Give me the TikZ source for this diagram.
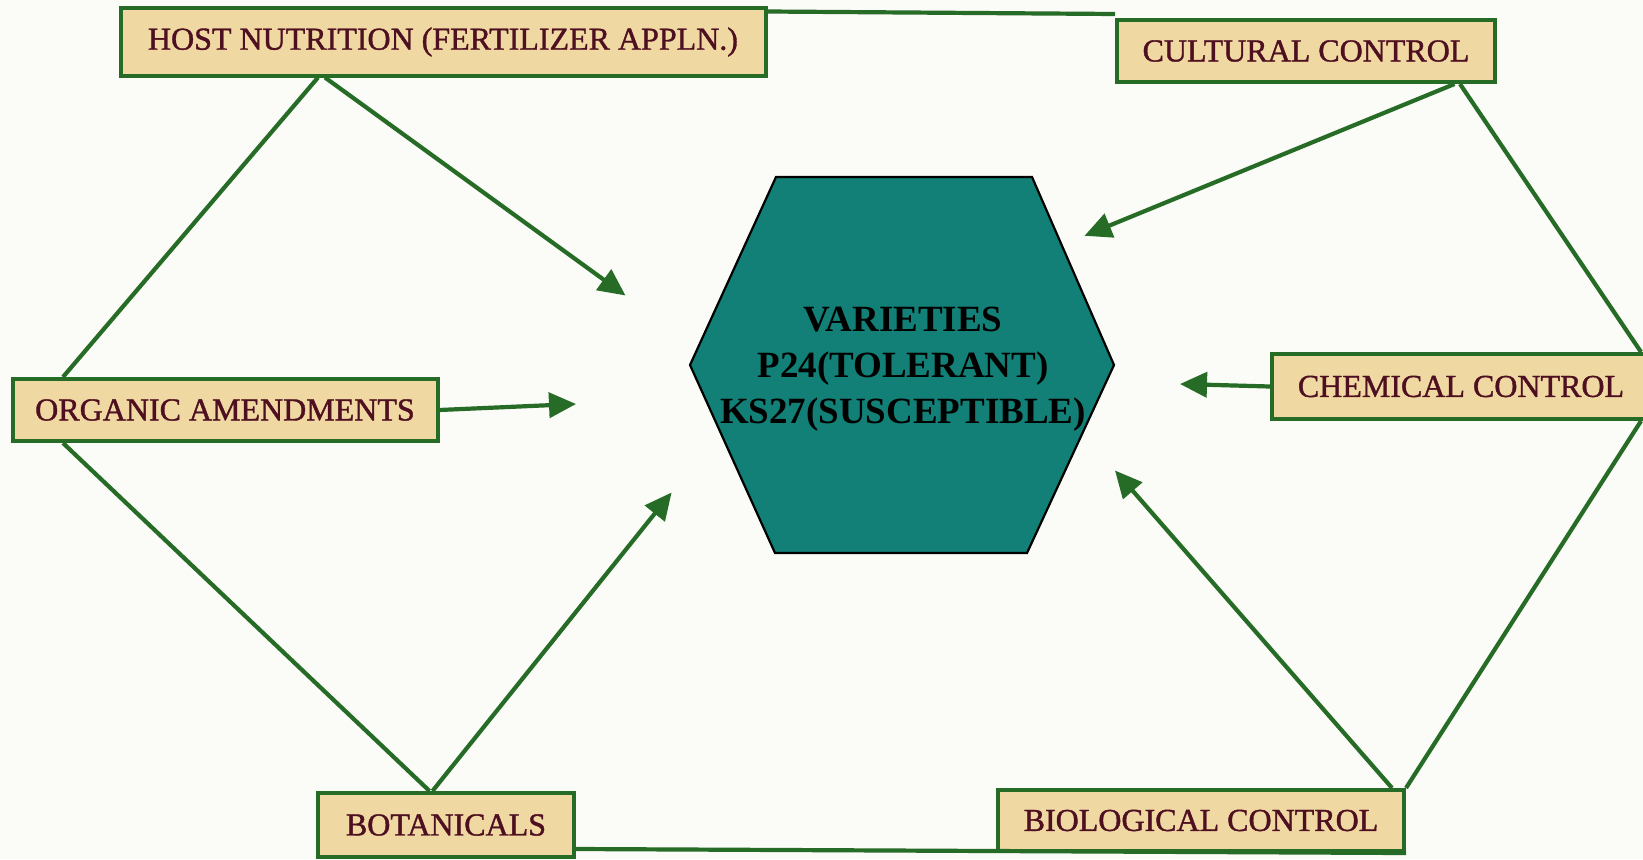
\documentclass[tikz,border=0pt]{standalone}
\usepackage{fontspec}
\setmainfont{Liberation Serif}
\newfontfamily\boxfont{Liberation Serif}[FakeBold=1.2]
\usetikzlibrary{arrows.meta,calc}
\definecolor{bgc}{RGB}{251,251,247}
\definecolor{boxfill}{RGB}{240,216,163}
\definecolor{boxline}{RGB}{38,108,38}
\definecolor{boxtext}{RGB}{78,16,32}
\definecolor{hexfill}{RGB}{18,128,118}
\begin{document}
\begin{tikzpicture}[x=1pt,y=-1pt,
  tbox/.style={draw=boxline, line width=4pt, fill=boxfill, text=boxtext,
    font=\boxfont\fontsize{32}{38}\selectfont, inner sep=0pt, anchor=center},
  link/.style={draw=boxline, line width=4.2pt},
  arr/.style={draw=boxline, line width=4.2pt, -{Triangle[length=27pt,width=25pt]}},
  hexshape/.style={draw=black, line width=2.2pt, fill=hexfill},
  hextext/.style={font=\bfseries\fontsize{37}{46}\selectfont, align=center, text=black, inner sep=0pt}]
\fill[bgc] (0,0) rectangle (1643,859);
\useasboundingbox (0,0) rectangle (1643,859);

% central hexagon
\draw[hexshape] (690,365) -- (776,177) -- (1032,177) -- (1114,365) -- (1027,553) -- (775,553) -- cycle;
\node[hextext] (hex) at (903,369) {VARIETIES\\P24(TOLERANT)\\KS27(SUSCEPTIBLE)};

% boxes
\node[tbox, minimum width=645pt, minimum height=67pt] (host) at (443,42) {HOST NUTRITION (FERTILIZER APPLN.)};
\node[tbox, minimum width=378pt, minimum height=62pt] (cultural) at (1306,51) {CULTURAL CONTROL};
\node[tbox, minimum width=425pt, minimum height=62pt] (organic) at (225,410) {ORGANIC AMENDMENTS};
\node[tbox, minimum width=378pt, minimum height=65pt] (chemical) at (1461,386.5) {CHEMICAL CONTROL};
\node[tbox, minimum width=256pt, minimum height=64pt] (botanicals) at (446,825) {BOTANICALS};
\node[tbox, minimum width=406pt, minimum height=61pt] (biological) at (1201,820.5) {BIOLOGICAL CONTROL};

% arrow targets
\coordinate (tHost) at (625.5,295.5);
\coordinate (tOrg) at (576,404);
\coordinate (tBot) at (671.6,492.5);
\coordinate (tBio) at (1115,470.5);
\coordinate (tChem) at (1180,384);
\coordinate (tCult) at (1084.5,235.8);

% outer ring
\draw[link] ($(host.north east)+(0,5)$) -- ($(cultural.north west)+(0,-4)$);
\draw[link] ($(host.south west)+(199.5,0)$) -- ($(organic.north west)+(52.5,0)$);
\draw[link] ($(organic.south west)+(52.5,0)$) -- ($(botanicals.north west)+(113.5,0)$);
\draw[link] ($(botanicals.south east)+(0,-10)$) -- (biological.south east);
\draw[link] (biological.north east) -- ($(chemical.south west)+(371,0)$);
\draw[link] ($(chemical.north west)+(371,0)$) -- ($(cultural.south west)+(345,0)$);

% arrows to centre
\draw[arr] ($(host.south west)+(206.5,0)$) -- (tHost);
\draw[arr] (organic.east) -- (tOrg);
\draw[arr] ($(botanicals.north west)+(116.5,0)$) -- (tBot);
\draw[arr] ($(biological.north west)+(396,0)$) -- (tBio);
\draw[arr] (chemical.west) -- (tChem);
\draw[arr] ($(cultural.south west)+(339.5,0)$) -- (tCult);
\end{tikzpicture}
\end{document}
